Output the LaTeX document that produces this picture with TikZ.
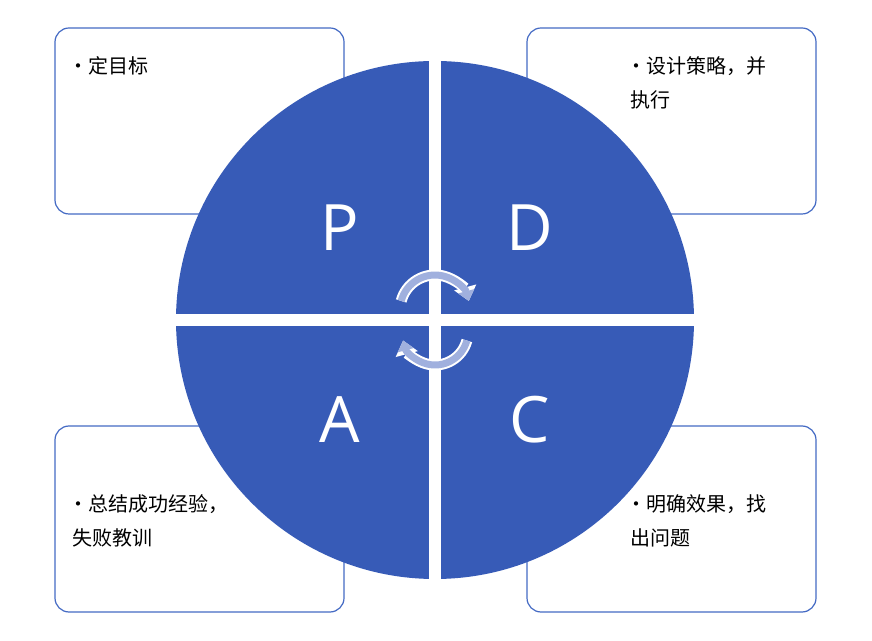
\documentclass[tikz,border=0pt]{standalone}
\usepackage{fontspec}
\newfontfamily\cjk{Noto Sans CJK SC}
\setsansfont{Open Sans}
\usetikzlibrary{arrows.meta}
\definecolor{pdcablue}{RGB}{55,91,183}
\definecolor{pdcaline}{RGB}{68,106,196}
\definecolor{cyclefill}{RGB}{160,176,222}
\tikzset{
  note box/.style={
    rounded corners=14pt,
    draw=pdcaline,
    line width=1.2pt,
    fill=white,
    minimum width=289pt,
    minimum height=186pt,
  },
  note text/.style={
    font=\cjk\fontsize{20}{34}\selectfont,
    align=left,
    anchor=north west,
    inner sep=0pt,
  },
  quad letter/.style={
    text=white,
    font=\sffamily\fontsize{64}{64}\selectfont,
  },
}
\begin{document}
\begin{tikzpicture}[x=1pt, y=1pt]
        \useasboundingbox (0,0) rectangle (872,640);
        % boxes behind the circle
        \node[note box] (plan box)  at (199.5,519) {};
        \node[note box] (do box)    at (671.5,519) {};
        \node[note box] (act box)   at (199.5,121) {};
        \node[note box] (check box) at (671.5,121) {};

        % the circle and its cross
        \fill[pdcablue] (435,320) circle (259);
        \draw[white, line width=12pt] (174,320) -- (696,320);
        \draw[white, line width=12pt] (435,59) -- (435,581);

        \node[quad letter] (P) at (340,412) {P};
        \node[quad letter] (D) at (530,412) {D};
        \node[quad letter] (A) at (340,220) {A};
        \node[quad letter] (C) at (530,220) {C};

        % cycle arrows
        \foreach \c/\r/\a/\b in {{(435,330)}/35/165/15, {(435,308)}/33/-15/-165} {
          \draw[white, line width=11pt, -{Triangle[length=14pt, width=22pt]}]
            \c ++(\a:\r) arc[start angle=\a, end angle=\b, radius=\r];
          \draw[cyclefill, line width=7pt, -{Triangle[length=10pt, width=16pt]}]
            \c ++(\a:\r) arc[start angle=\a, end angle=\b, radius=\r];
        }

        % texts
        \node[note text] (plan text)  at (68,584)  {•定目标};
        \node[note text] (do text)    at (626,584) {•设计策略，并\\\ 执行};
        \node[note text] (act text)   at (68,146)  {•总结成功经验，\\\ 失败教训};
        \node[note text] (check text) at (626,146) {•明确效果，找\\\ 出问题};
      \end{tikzpicture}
\end{document}
